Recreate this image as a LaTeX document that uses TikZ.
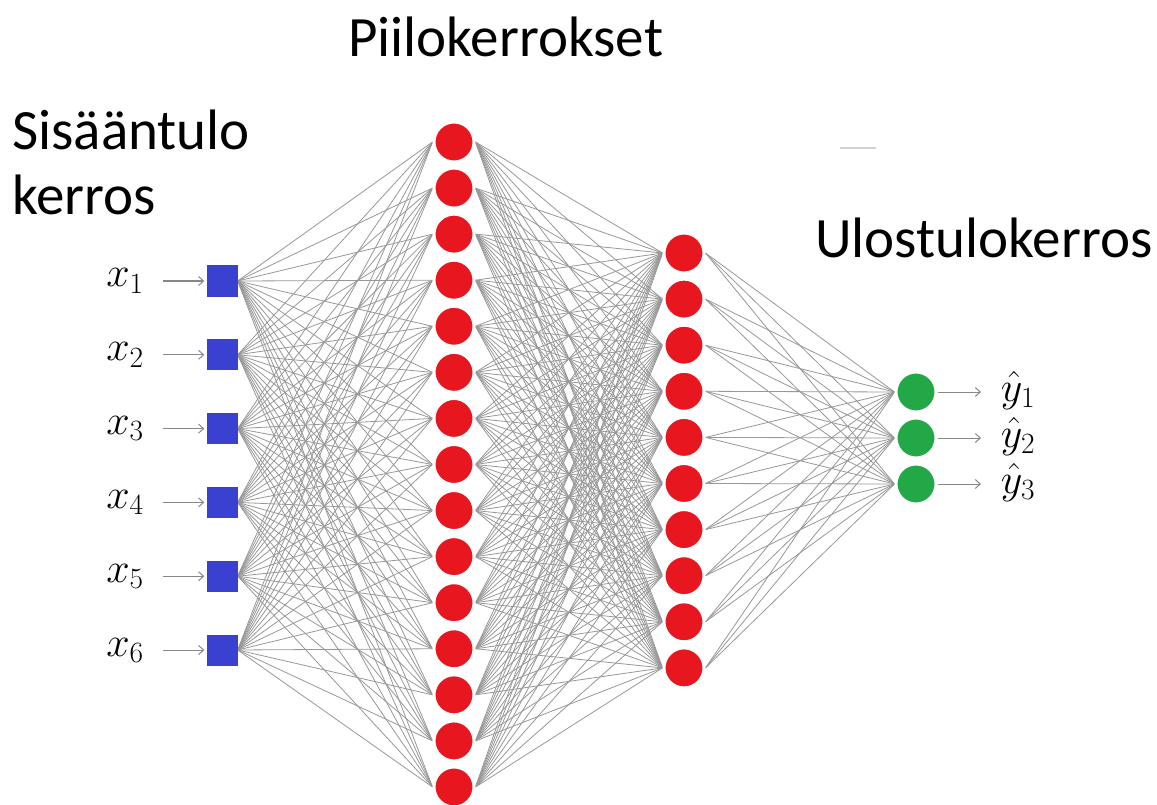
\RequirePackage{fix-cm}
\documentclass[tikz,border=0pt]{standalone}
\usepackage{fontspec}
\setmainfont{Carlito}
\usetikzlibrary{arrows.meta}
\pgfdeclarelayer{bg}
\pgfdeclarelayer{edges}
\pgfsetlayers{bg,edges,main}
\definecolor{inblue}{RGB}{58,64,208}
\definecolor{hidred}{RGB}{232,22,30}
\definecolor{outgreen}{RGB}{34,168,70}
\definecolor{conngray}{RGB}{152,152,152}
\definecolor{arrgray}{RGB}{135,135,135}
\begin{document}
\begin{tikzpicture}[x=1pt,y=-1pt,
  inp/.style={rectangle,fill=inblue,minimum size=31pt,inner sep=0pt},
  hid/.style={circle,fill=hidred,draw=white,line width=3pt,minimum size=40pt,inner sep=0pt},
  outn/.style={circle,fill=outgreen,draw=white,line width=3pt,minimum size=40pt,inner sep=0pt},
  conn/.style={draw=conngray,line width=0.8pt},
  arr/.style={draw=arrgray,line width=1pt,-{Straight Barb[length=5pt,width=9pt]}},
  title/.style={font=\fontsize{57}{60}\selectfont,anchor=base west,inner sep=0pt},
  mlab/.style={font=\fontsize{42}{44}\selectfont,inner sep=0pt,text height=18pt,text depth=6pt}]
\begin{pgfonlayer}{bg}
\fill[white] (0,0) rectangle (1157,805);
\end{pgfonlayer}
\useasboundingbox (0,0) rectangle (1157,805);
% titles
\node[title] (t1) at (348,57) {Piilokerrokset};
\node[title] (t2) at (12,150) {Sisääntulo};
\node[title] (t3) at (12,215) {kerros};
\node[title] (t4) at (815,258) {Ulostulokerros};
% input layer
\foreach \i in {1,...,6} {
  \node[inp] (i\i) at (222,{281+(\i-1)*73.8}) {};
  \node[mlab] (xl\i) at (125,{281+(\i-1)*73.8}) {$x_{\i}$};
  \coordinate (xs\i) at (163,{281+(\i-1)*73.8});
  \draw[arr,shorten >=2pt] (xs\i) -- (i\i.west);
}
% hidden layers
\foreach \i in {1,...,15} \node[hid] (h\i) at (454,{142+(\i-1)*46.07}) {};
\foreach \i in {1,...,10} \node[hid] (g\i) at (684,{253+(\i-1)*46.1}) {};
% output layer
\foreach \i in {1,2,3} {
  \node[outn] (o\i) at (916,{392+(\i-1)*46}) {};
  \coordinate (ye\i) at (981,{392+(\i-1)*46});
  \draw[arr] (o\i.east) -- (ye\i);
  \node[mlab,text height=20pt,text depth=4pt] (yl\i) at (1018,{393+(\i-1)*46}) {$\hat{y}_{\i}$};
}
\begin{pgfonlayer}{edges}
\foreach \a in {1,...,6} \foreach \b in {1,...,15} \draw[conn] (i\a.east) -- (h\b.west);
\foreach \a in {1,...,15} \foreach \b in {1,...,10} \draw[conn] (h\a.east) -- (g\b.west);
\foreach \a in {1,...,10} \foreach \b in {1,2,3} \draw[conn] (g\a.east) -- (o\b.west);
\end{pgfonlayer}
\coordinate (d1) at (840,148);
\coordinate (d2) at (876,148);
\draw[gray!35,line width=1.2pt] (d1) -- (d2);
\end{tikzpicture}
\end{document}
